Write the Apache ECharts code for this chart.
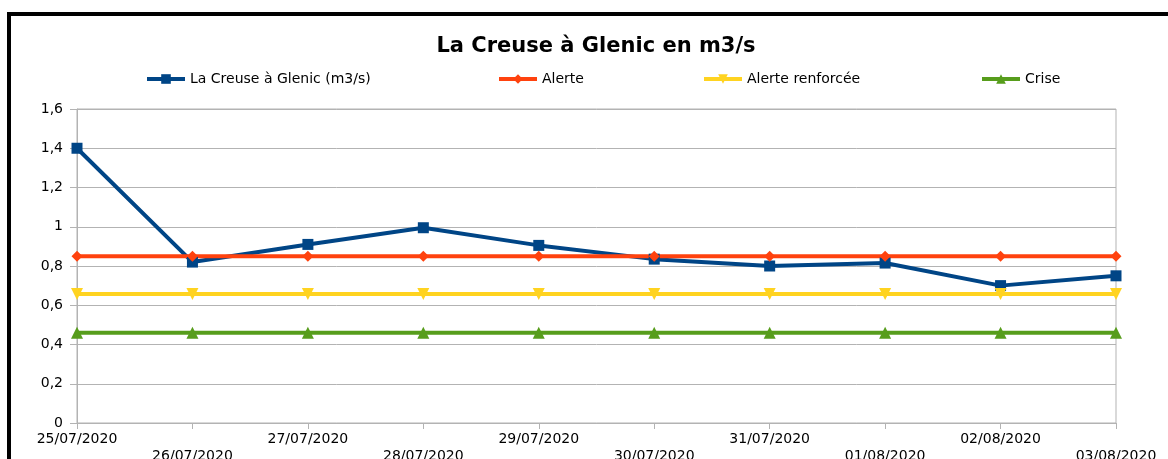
<!DOCTYPE html>
<html>
<head>
<meta charset="utf-8">
<script src="https://cdn.jsdelivr.net/npm/echarts@6/dist/echarts.min.js"></script>
<style>
  body { margin: 0; background: #fff; }
  #frame { position: absolute; left: 7px; top: 12px; width: 1300px; height: 600px; border: 4px solid #000; box-sizing: border-box; }
  #main { position: absolute; left: 0; top: 0; width: 1168px; height: 459px; }
</style>
</head>
<body>
<div id="frame"></div>
<div id="main"></div>
<script>
  // donnees
  var dates = ['25/07/2020', '26/07/2020', '27/07/2020', '28/07/2020', '29/07/2020',
    '30/07/2020', '31/07/2020', '01/08/2020', '02/08/2020', '03/08/2020'];
  var debit = [1.4, 0.82, 0.91, 0.995, 0.905, 0.835, 0.80, 0.815, 0.70, 0.75];
  var alerte = [0.85, 0.85, 0.85, 0.85, 0.85, 0.85, 0.85, 0.85, 0.85, 0.85];
  var alerteRenforcee = [0.657, 0.657, 0.657, 0.657, 0.657, 0.657, 0.657, 0.657, 0.657, 0.657];
  var crise = [0.46, 0.46, 0.46, 0.46, 0.46, 0.46, 0.46, 0.46, 0.46, 0.46];
  var names = ['La Creuse à Glenic (m3/s)', 'Alerte', 'Alerte renforcée', 'Crise'];

  var font = 'DejaVu Sans';
  var myChart = echarts.init(document.getElementById('main'));

  function legendAt(name, left) {
    return {
      data: [name],
      left: left,
      top: 72,
      padding: 0,
      itemWidth: 38,
      itemHeight: 12,
      itemGap: 0,
      lineStyle: { width: 4 },
      textStyle: { fontFamily: font, fontSize: 14, color: '#000' }
    };
  }

  var option = {
    backgroundColor: 'transparent',
    animation: false,
    title: {
      text: 'La Creuse à Glenic en m3/s',
      left: 591,
      textAlign: 'center',
      top: 31,
      textStyle: { fontFamily: font, fontSize: 21, fontWeight: 'bold', color: '#000' }
    },
    legend: [
      legendAt(names[0], 145),
      legendAt(names[1], 497),
      legendAt(names[2], 702),
      legendAt(names[3], 980)
    ],
    grid: {
      left: 77,
      right: 52,
      top: 109,
      bottom: 36,
      outerBoundsMode: 'none',
      containLabel: false,
      show: true,
      borderColor: '#b3b3b3',
      borderWidth: 1
    },
    xAxis: {
      type: 'category',
      data: dates,
      boundaryGap: false,
      axisLine: { lineStyle: { color: '#b3b3b3' } },
      axisTick: { show: true, length: 6, alignWithLabel: true, lineStyle: { color: '#b3b3b3' } },
      axisLabel: {
        interval: 0,
        margin: 8,
        fontFamily: font,
        fontSize: 14,
        lineHeight: 17,
        color: '#000',
        formatter: function (value, index) {
          return index % 2 ? '\n' + value : value;
        }
      }
    },
    yAxis: {
      type: 'value',
      min: 0,
      max: 1.6,
      interval: 0.2,
      axisLine: { show: true, lineStyle: { color: '#b3b3b3' } },
      axisTick: { show: true, length: 7, lineStyle: { color: '#b3b3b3' } },
      splitLine: { lineStyle: { color: '#b3b3b3' } },
      axisLabel: {
        margin: 14,
        fontFamily: font,
        fontSize: 14,
        color: '#000',
        formatter: function (v) {
          return String(+v.toFixed(1)).replace('.', ',');
        }
      }
    },
    series: [
      {
        name: names[0],
        type: 'line',
        data: debit,
        symbol: 'rect',
        symbolSize: 11,
        lineStyle: { width: 4, color: '#004586' },
        itemStyle: { color: '#004586' }
      },
      {
        name: names[1],
        type: 'line',
        data: alerte,
        symbol: 'diamond',
        symbolSize: 11,
        lineStyle: { width: 4, color: '#ff420e' },
        itemStyle: { color: '#ff420e' }
      },
      {
        name: names[2],
        type: 'line',
        data: alerteRenforcee,
        symbol: 'triangle',
        symbolRotate: 180,
        symbolSize: 12,
        lineStyle: { width: 4, color: '#ffd320' },
        itemStyle: { color: '#ffd320' }
      },
      {
        name: names[3],
        type: 'line',
        data: crise,
        symbol: 'triangle',
        symbolSize: 12,
        lineStyle: { width: 4, color: '#579d1c' },
        itemStyle: { color: '#579d1c' }
      }
    ]
  };

  myChart.setOption(option);
</script>
</body>
</html>
